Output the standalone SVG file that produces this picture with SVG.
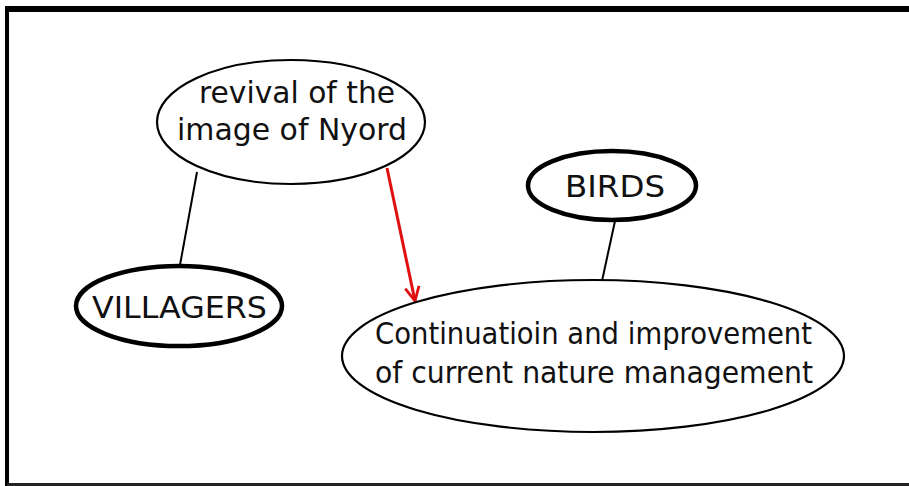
<svg xmlns="http://www.w3.org/2000/svg" width="909" height="486" viewBox="0 0 909 486">
  <style>
    .node { fill: #ffffff; stroke: #000000; stroke-width: 2.2; }
    .node.bold { stroke-width: 4.5; }
    .label { font-family: "DejaVu Sans", "Liberation Sans", sans-serif; font-size: 30px; fill: #111111; text-anchor: middle; }
    .link { stroke: #000000; stroke-width: 2; fill: none; }
    .cause { stroke: #e01010; stroke-width: 3; fill: none; }
  </style>
  <defs>
    <marker id="open-arrow" viewBox="0 0 18 18" refX="16" refY="9" markerWidth="18" markerHeight="18" markerUnits="userSpaceOnUse" orient="auto">
      <path d="M2,2 L16,9 L2,16" fill="none" stroke="#e01010" stroke-width="2.8"/>
    </marker>
  </defs>

  <!-- page background and frame -->
  <rect x="0" y="0" width="909" height="486" fill="#ffffff"/>
  <g id="frame" stroke="#000000" fill="none">
    <line x1="7" y1="9" x2="909" y2="9" stroke-width="6"/>
    <line x1="7" y1="6" x2="7" y2="486" stroke-width="4"/>
    <line x1="7" y1="484.5" x2="909" y2="484.5" stroke-width="3" stroke="#222222"/>
  </g>

  <!-- connectors -->
  <g id="connectors">
    <line class="link" x1="197" y1="172" x2="180" y2="265"/>
    <line class="link" x1="615" y1="221" x2="602" y2="281"/>
    <line class="cause" x1="387" y1="168" x2="415" y2="301" marker-end="url(#open-arrow)"/>
  </g>

  <!-- nodes -->
  <g id="node-revival">
    <ellipse class="node" cx="291" cy="122" rx="134" ry="62"/>
    <text class="label" x="297" y="103" textLength="196" lengthAdjust="spacingAndGlyphs">revival of the</text>
    <text class="label" x="292" y="140" textLength="230" lengthAdjust="spacingAndGlyphs">image of Nyord</text>
  </g>

  <g id="node-villagers">
    <ellipse class="node bold" cx="179" cy="306" rx="103" ry="40"/>
    <text class="label" x="179.5" y="318" textLength="175" lengthAdjust="spacingAndGlyphs">VILLAGERS</text>
  </g>

  <g id="node-birds">
    <ellipse class="node bold" cx="612" cy="185.5" rx="84" ry="34.5"/>
    <text class="label" x="615" y="197" textLength="100" lengthAdjust="spacingAndGlyphs">BIRDS</text>
  </g>

  <g id="node-management">
    <ellipse class="node" cx="593" cy="356" rx="251" ry="76"/>
    <text class="label" x="593.5" y="344" textLength="437" lengthAdjust="spacingAndGlyphs">Continuatioin and improvement</text>
    <text class="label" x="594" y="383" textLength="438" lengthAdjust="spacingAndGlyphs">of current nature management</text>
  </g>
</svg>
